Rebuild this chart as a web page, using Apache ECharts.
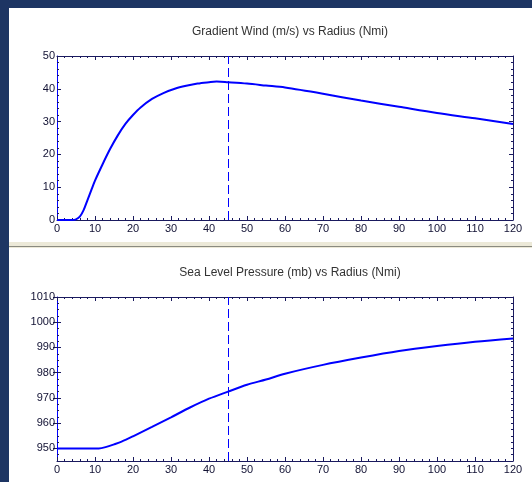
<!DOCTYPE html>
<html>
<head>
<meta charset="utf-8">
<script src="https://cdn.jsdelivr.net/npm/echarts@6/dist/echarts.min.js"></script>
<style>
  html, body { margin: 0; padding: 0; background: #1d3563; }
  #chart { width: 532px; height: 482px; }
</style>
</head>
<body>
<div id="chart"></div>
<script>
// gradient wind profile (m/s) vs radius (Nmi)
const windRadius = [0, 4, 5, 6, 7, 8, 9, 10, 12, 14, 16, 18, 20, 22, 25, 28, 31, 34, 37, 40, 42, 45, 50, 55, 60, 70, 80, 90, 100, 110, 120];
const windSpeed = [0, 0, 0.2, 1, 3, 6, 9, 12, 17, 21.7, 25.8, 29.3, 32, 34.3, 36.9, 38.7, 40, 40.9, 41.6, 42, 42.2, 42, 41.6, 41, 40.4, 38.5, 36.4, 34.5, 32.6, 31, 29.3];

// sea level pressure (mb) vs radius (Nmi)
const presRadius = [0, 5, 10, 11, 13, 15, 17, 20, 25, 30, 35, 40, 45, 50, 55, 60, 70, 80, 90, 100, 110, 120];
const pressure = [950, 950, 950, 950, 950.6, 951.6, 952.7, 954.8, 958.5, 962.3, 966.2, 969.7, 972.5, 975.2, 977.3, 979.6, 983.1, 986, 988.6, 990.6, 992.3, 993.6];
const presTicks = [950, 960, 970, 980, 990, 1000, 1010];

const rmw = 45; // radius of max wind marker
const titles = ["Gradient Wind (m/s) vs Radius (Nmi)", "Sea Level Pressure (mb) vs Radius (Nmi)"];

const navy = "#1a1a5e";
const font = "Liberation Sans, Arial, sans-serif";

function pairs(xs, ys) {
  return xs.map(function(x, i) { return [x, ys[i]]; });
}

function plain(v) {
  return String(v);
}

function xAx(grid, pos) {
  return {
    type: "value", gridIndex: grid, position: pos,
    min: 0, max: 120, interval: 10,
    axisLine: { show: true, onZero: false, lineStyle: { color: navy, width: 1 } },
    axisTick: { show: true, inside: true, length: 4, lineStyle: { color: navy } },
    minorTick: { show: true, splitNumber: 5, length: 2, lineStyle: { color: navy } },
    splitLine: { show: false },
    axisLabel: { show: pos === "bottom", color: "#111133", fontSize: 11, fontFamily: font, margin: 3, formatter: plain }
  };
}

function yAx(grid, pos, min, max) {
  return {
    type: "value", gridIndex: grid, position: pos,
    min: min, max: max, interval: 10,
    axisLine: { show: true, onZero: false, lineStyle: { color: pos === "left" ? "#0000ff" : navy, width: 1 } },
    axisTick: { show: true, inside: true, length: 4, lineStyle: { color: navy } },
    minorTick: { show: true, splitNumber: 5, length: 2, lineStyle: { color: navy } },
    splitLine: { show: false },
    axisLabel: { show: pos === "left", color: "#111133", fontSize: 11, fontFamily: font, margin: 2, formatter: plain }
  };
}

// pressure axis starts at 945, so minor ticks every 5 and major ticks/labels on the tens
function presAx(pos) {
  return {
    type: "value", gridIndex: 1, position: pos,
    min: 945, max: 1010, interval: 5,
    axisLine: { show: true, onZero: false, lineStyle: { color: pos === "left" ? "#0000ff" : navy, width: 1 } },
    axisTick: { show: true, inside: true, length: 2, lineStyle: { color: navy } },
    minorTick: { show: true, splitNumber: 2, length: 2, lineStyle: { color: navy } },
    splitLine: { show: false },
    axisLabel: {
      show: pos === "left", customValues: presTicks, color: "#111133",
      fontSize: 11, fontFamily: font, margin: 2, formatter: plain
    }
  };
}

function presMajor(pos) {
  return {
    type: "value", gridIndex: 1, position: pos,
    min: 945, max: 1010,
    axisLine: { show: false },
    axisTick: { show: true, inside: true, length: 4, customValues: presTicks, lineStyle: { color: navy } },
    splitLine: { show: false },
    axisLabel: { show: false }
  };
}

function curve(xi, yi, data) {
  return {
    type: "line", xAxisIndex: xi, yAxisIndex: yi,
    data: data, showSymbol: false, smooth: 0.3,
    lineStyle: { color: "#0000ff", width: 2 },
    markLine: {
      silent: true, symbol: "none", label: { show: false },
      lineStyle: { color: "#0000ff", width: 1, type: [9, 4] },
      data: [{ xAxis: rmw }]
    }
  };
}

const option = {
  backgroundColor: "#1d3563",
  animation: false,
  graphic: [
    { type: "rect", shape: { x: 9, y: 8, width: 523, height: 474 }, style: { fill: "#ffffff" }, silent: true, z: -10 },
    { type: "rect", shape: { x: 9, y: 242, width: 523, height: 6 }, style: { fill: "#ece9d8" }, silent: true, z: -9 },
    { type: "rect", shape: { x: 9, y: 246, width: 523, height: 1 }, style: { fill: "#8a8a80" }, silent: true, z: -9 }
  ],
  title: [
    { text: titles[0], left: 285, top: 21, textAlign: "center",
      textStyle: { color: "#333333", fontSize: 12, fontWeight: "normal", fontFamily: font } },
    { text: titles[1], left: 285, top: 262, textAlign: "center",
      textStyle: { color: "#333333", fontSize: 12, fontWeight: "normal", fontFamily: font } }
  ],
  grid: [
    { left: 57, top: 56, width: 456, height: 164 },
    { left: 57, top: 297, width: 456, height: 164 }
  ],
  xAxis: [xAx(0, "bottom"), xAx(0, "top"), xAx(1, "bottom"), xAx(1, "top")],
  yAxis: [
    yAx(0, "left", 0, 50), yAx(0, "right", 0, 50),
    presAx("left"), presAx("right"),
    presMajor("left"), presMajor("right")
  ],
  series: [
    curve(0, 0, pairs(windRadius, windSpeed)),
    curve(2, 2, pairs(presRadius, pressure))
  ]
};

const chart = echarts.init(document.getElementById("chart"));
chart.setOption(option);
</script>
</body>
</html>
